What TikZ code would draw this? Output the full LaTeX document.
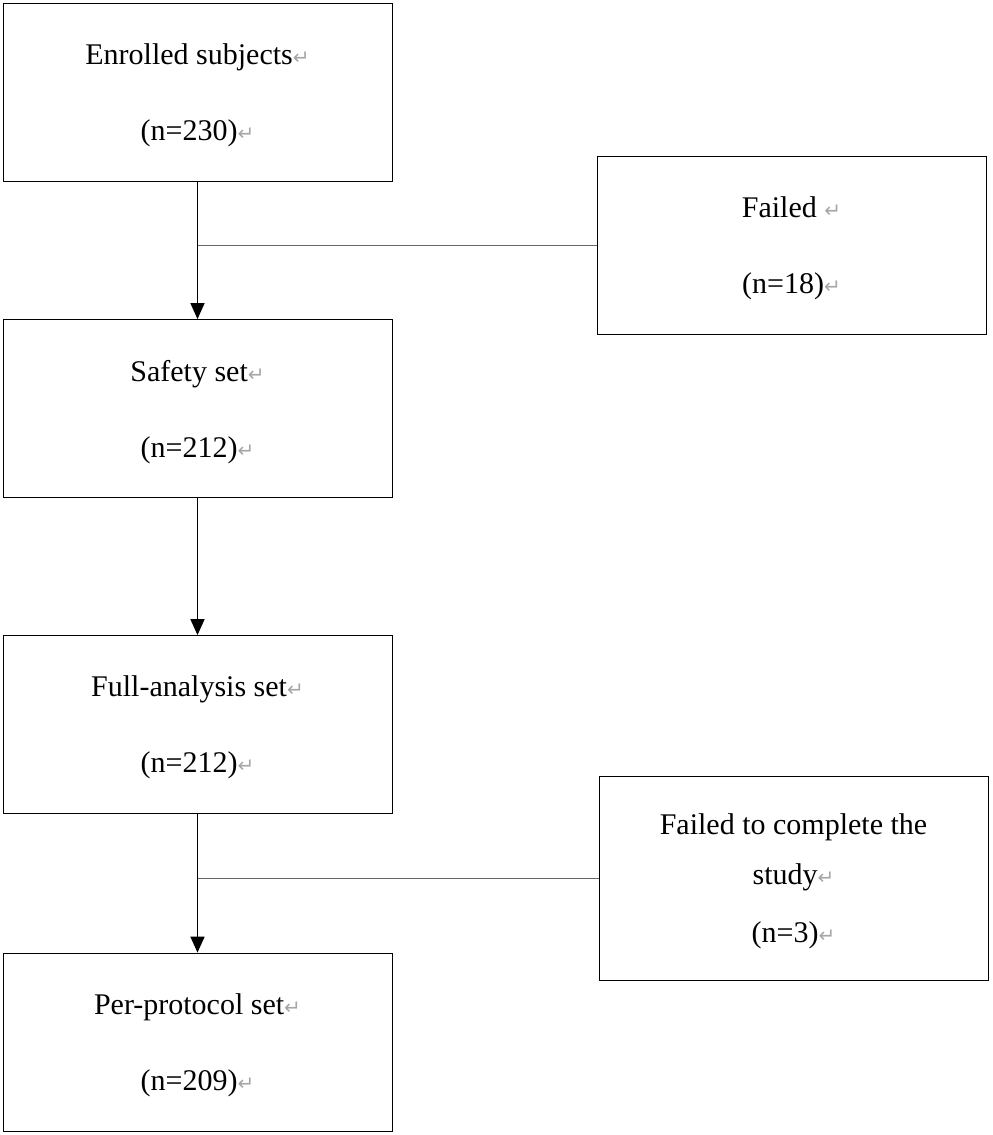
\documentclass[tikz,border=0pt]{standalone}
\usepackage{fontspec}
\setmainfont{Liberation Serif}
\newfontfamily\retfont{DejaVu Sans}
\newcommand{\pmark}{{\color{black!35}\retfont\fontsize{20}{20}\selectfont ↵}}
\usetikzlibrary{arrows.meta}
\tikzset{
	box/.style={draw, thick, rectangle, minimum width=389pt, minimum height=178pt, align=center,
		font=\fontsize{30}{76}\selectfont, inner sep=0pt, text depth=-6pt},
	flow/.style={line width=1.6pt, -{Triangle[length=16pt,width=14pt]}},
	side/.style={draw=black!60, thin}
}
\begin{document}
\begin{tikzpicture}[x=1pt,y=-1pt]
	\useasboundingbox (0,0) rectangle (993,1135);
	\node[box] (enrolled) at (197.5,92) {Enrolled subjects\pmark\\(n=230)\pmark};
	\node[box] (failed) at (791.5,245.5) {Failed \pmark\\(n=18)\pmark};
	\node[box] (safety) at (197.5,408.5) {Safety set\pmark\\(n=212)\pmark};
	\node[box] (full) at (197.5,724.5) {Full-analysis set\pmark\\(n=212)\pmark};
	\node[box, minimum height=204pt, font=\fontsize{30}{58}\selectfont] (failedtwo) at (793.5,878)
		{Failed to complete the\\[-8pt]study\pmark\\(n=3)\pmark};
	\node[box] (perprotocol) at (197.5,1042) {Per-protocol set\pmark\\(n=209)\pmark};
	\draw[flow] (enrolled) -- (safety);
	\draw[flow] (safety) -- (full);
	\draw[flow] (full) -- (perprotocol);
	\draw[side] (failed.west) -- (failed.west -| enrolled.south);
	\draw[side] (failedtwo.west) -- (failedtwo.west -| full.south);
\end{tikzpicture}
\end{document}
